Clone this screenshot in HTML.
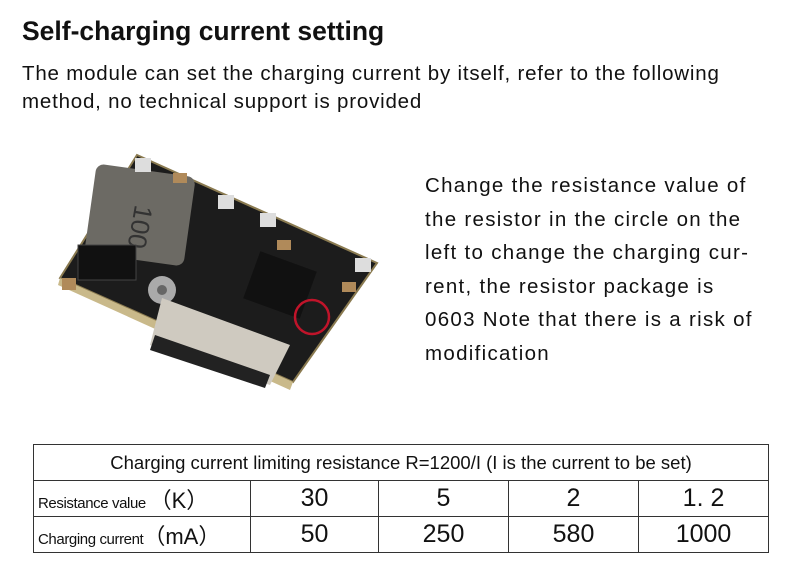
<!DOCTYPE html>
<html><head><style>
body{margin:0;width:800px;height:582px;background:#fff;font-family:"Liberation Sans",sans-serif;position:relative;overflow:hidden;color:#111}
.t{position:absolute;white-space:nowrap}
table{position:absolute;left:33px;top:444px;width:735px;border-collapse:collapse;table-layout:fixed;font-family:"Liberation Sans",sans-serif}
td{border:1.5px solid #333;height:35px;text-align:center;font-size:25px;padding:0;overflow:hidden;white-space:nowrap}
td.l{text-align:left;font-size:15px;padding-left:4px;letter-spacing:-0.4px}
</style></head><body>
<div class="t" style="left:22px;top:16px;font-size:26.5px;font-weight:bold">Self-charging current setting</div>
<div class="t" style="left:22px;top:60px;font-size:20.5px;line-height:28px;letter-spacing:0.8px">The module can set the charging current by itself, refer to the following<br>method, no technical support is provided</div>
<div class="t" style="left:425px;top:169px;font-size:20.5px;line-height:33.5px;letter-spacing:1.3px">Change the resistance value of<br>the resistor in the circle on the<br>left to change the charging cur-<br>rent, the resistor package is<br>0603 Note that there is a risk of<br>modification</div>
<svg width="800" height="440" style="position:absolute;left:0;top:0">
<polygon points="137,155 377,263 293,382 60,278" fill="#1c1c1c" stroke="#8a7a50" stroke-width="2"/>
<polygon points="60,278 293,382 290,390 58,285" fill="#c9b98a"/>
<rect x="90" y="170" width="100" height="90" rx="8" fill="#6c6a64" transform="rotate(8 140 215)"/>
<text x="140" y="210" font-size="26" fill="#333" font-family="Liberation Sans" transform="rotate(100 140 205)">100</text>
<rect x="78" y="245" width="58" height="35" fill="#111" stroke="#444"/>
<rect x="250" y="260" width="60" height="50" fill="#111" transform="rotate(20 280 285)"/>
<circle cx="162" cy="290" r="14" fill="#aaa"/><circle cx="162" cy="290" r="5" fill="#666"/>
<polygon points="162,298 290,345 270,385 150,345" fill="#cfcac0"/>
<polygon points="155,335 270,375 265,388 150,350" fill="#222"/>
<rect x="135" y="158" width="16" height="14" fill="#ddd"/><rect x="218" y="195" width="16" height="14" fill="#ddd"/>
<rect x="260" y="213" width="16" height="14" fill="#ddd"/><rect x="355" y="258" width="16" height="14" fill="#ddd"/>
<rect x="173" y="173" width="14" height="10" fill="#b08a5a"/><rect x="277" y="240" width="14" height="10" fill="#b08a5a"/>
<rect x="342" y="282" width="14" height="10" fill="#b08a5a"/><rect x="62" y="278" width="14" height="12" fill="#b08a5a"/>
<circle cx="312" cy="317" r="17" fill="none" stroke="#c0142a" stroke-width="2.5"/>
</svg>
<table>
<colgroup><col style="width:217px"><col style="width:128px"><col style="width:130px"><col style="width:130px"><col style="width:130px"></colgroup>
<tr><td colspan="5" style="font-size:18.5px">Charging current limiting resistance R=1200/I (I is the current to be set)</td></tr>
<tr><td class="l">Resistance value <span style="font-size:22px;letter-spacing:0">（K）</span></td><td>30</td><td>5</td><td>2</td><td>1. 2</td></tr>
<tr><td class="l">Charging current<span style="font-size:22px;letter-spacing:0">（mA）</span></td><td>50</td><td>250</td><td>580</td><td>1000</td></tr>
</table>
</body></html>
